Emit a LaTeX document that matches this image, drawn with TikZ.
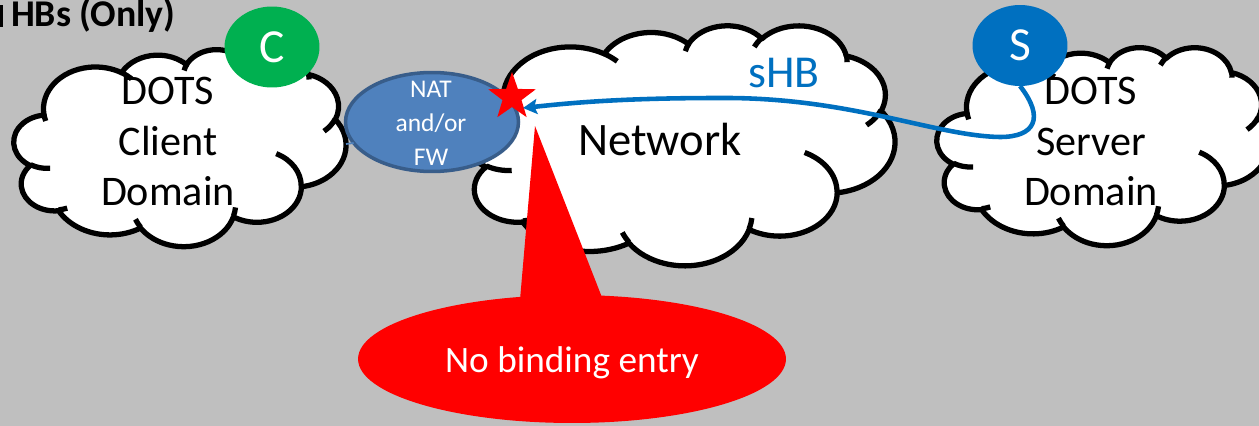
\documentclass[tikz,border=0pt]{standalone}
\usepackage{fontspec}
\setmainfont{Carlito}
\usetikzlibrary{arrows.meta,shapes.geometric}

\definecolor{slidegray}{HTML}{BFBFBF}
\definecolor{clientgreen}{HTML}{00B050}
\definecolor{serverblue}{HTML}{0070C0}
\definecolor{natfill}{HTML}{4F81BD}
\definecolor{natborder}{HTML}{385D8A}

\begin{document}
\begin{tikzpicture}[
      x=0.02cm, y=-0.02cm,
      every node/.style={inner sep=0pt, outer sep=0pt},
      cloudedge/.style={line width=3pt, line join=round, draw=black, fill=white},
      cloudcrease/.style={line width=3pt, line cap=butt, draw=black},
      lbl/.style={align=center, font=\fontsize{24}{28.5}\selectfont},
      badge/.style={ellipse, minimum width=1.9cm, minimum height=1.62cm, text=white,
                    font=\fontsize{27}{30}\selectfont},
      hb/.style={serverblue, line width=2.6pt},
      % cloud outline on a 43.2 x 43.2 grid, puffs first, then the creases
      domaincloud/.pic={
        \filldraw[cloudedge] (3.900,14.370)
          arc[start angle=172.26, delta angle=128.10, x radius=6.753, y radius=9.190]
          arc[start angle=-152.02, delta angle=106.57, x radius=5.333, y radius=7.267]
          arc[start angle=-153.48, delta angle=116.16, x radius=4.365, y radius=5.945]
          arc[start angle=-139.69, delta angle=129.48, x radius=4.857, y radius=6.595]
          arc[start angle=-74.77, delta angle=97.98, x radius=5.333, y radius=7.273]
          arc[start angle=-37.53, delta angle=119.40, x radius=6.775, y radius=9.220]
          arc[start angle=0.46, delta angle=121.51, x radius=5.785, y radius=7.867]
          arc[start angle=16.85, delta angle=129.37, x radius=6.752, y radius=9.215]
          arc[start angle=58.98, delta angle=91.22, x radius=7.720, y radius=10.543]
          arc[start angle=83.30, delta angle=139.80, x radius=4.360, y radius=5.918]
          arc[start angle=120.35, delta angle=143.76, x radius=4.345, y radius=5.945]
          -- cycle;
        \draw[cloudcrease]
          (4.693,26.177) arc[start angle=85.54, delta angle=34.81, x radius=4.345, y radius=5.945]
          (6.928,34.899) arc[start angle=68.23, delta angle=15.07, x radius=4.360, y radius=5.918]
          (16.478,39.090) arc[start angle=146.22, delta angle=12.25, x radius=6.752, y radius=9.215]
          (28.827,34.751) arc[start angle=4.74, delta angle=12.11, x radius=6.752, y radius=9.215]
          (34.129,22.954) arc[start angle=-64.03, delta angle=64.49, x radius=5.785, y radius=7.867]
          (41.798,15.354) arc[start angle=23.21, delta angle=26.45, x radius=5.333, y radius=7.273]
          (38.324,5.426) arc[start angle=-10.21, delta angle=11.03, x radius=4.857, y radius=6.595]
          (29.078,3.952) arc[start angle=-156.29, delta angle=16.60, x radius=4.857, y radius=6.595]
          (22.141,4.720) arc[start angle=-167.73, delta angle=14.25, x radius=4.365, y radius=5.945]
          (14.000,5.192) arc[start angle=-59.64, delta angle=13.90, x radius=6.753, y radius=9.190]
          (4.127,15.789) arc[start angle=163.20, delta angle=9.06, x radius=6.753, y radius=9.190];
      }
    ]

    \useasboundingbox (0,0) rectangle (1259,426);
    \clip (0,0) rectangle (1259,426);
    \fill[slidegray] (0,0) rectangle (1259,426);

    % title, cut off at the left
    \fill (0,5) rectangle (3,27);
    \node[anchor=base west, font=\bfseries\fontsize{21.5}{25}\selectfont] (title) at (11,27) {HBs (Only)};

    % client, network and server clouds
    \foreach \cx/\cy/\cw/\ch in {14/49/0.1537/0.0912, 465/25/0.19907/0.11111, 937/47/0.1537/0.09167}{
      \begin{scope}[shift={(\cx,\cy)}, x=\cw cm, y=-\ch cm]
        \pic {domaincloud};
      \end{scope}
    }

    \node[lbl] (clienttxt) at (168,141.5) {DOTS\\Client\\Domain};
    \node[lbl] (servertxt) at (1091,141.5) {DOTS\\Server\\Domain};
    \node[lbl, anchor=base, font=\fontsize{26.5}{30}\selectfont] (nettxt) at (660,155) {Network};

    % middlebox
    \node[ellipse, fill=natfill, draw=natborder, line width=2pt,
          minimum width=3.46cm, minimum height=1.98cm] (nat) at (432,122) {};
    \node[align=center, text=white, font=\fontsize{14.5}{19.3}\selectfont] (nattxt) at (431,123.5) {NAT\\and/or\\FW};
    \coordinate (clientedge) at (346,144);
    \draw[natfill, line width=1pt] (clientedge) -- (nat.195);

    % endpoints
    \node[badge, fill=clientgreen] (cdot) at (272,47) {C};
    \node[badge, fill=serverblue] (sdot) at (1020,45.5) {S};

    \node[star, star points=5, star point ratio=2.5, fill=red, minimum size=1cm] (drop) at (512,97) {};

    % heartbeat from the server, dropped at the middlebox
    \coordinate (hit) at (523,108);
    \draw[hb, -{Stealth[length=0.28cm, width=0.3cm, inset=0.05cm]}] (sdot.south)
      .. controls (1045,118) and (1035,137) .. (1000,137)
      .. controls (935,136) and (850,97) .. (720,98)
      .. controls (620,98) and (570,103) .. (hit);
    \node[anchor=base, text=serverblue, font=\fontsize{26}{30}\selectfont] (hblbl) at (784,87) {sHB};

    % callout
    \node[ellipse, fill=red, minimum width=8.56cm, minimum height=2.56cm] (note) at (572,359) {};
    \coordinate (tip) at (535,126);
    \fill[red] (tip) -- (520,300) -- (603,300) -- cycle;
    \node[anchor=base, text=white, font=\fontsize{21.2}{25}\selectfont] (notetxt) at (572,372) {No binding entry};

\end{tikzpicture}
\end{document}
